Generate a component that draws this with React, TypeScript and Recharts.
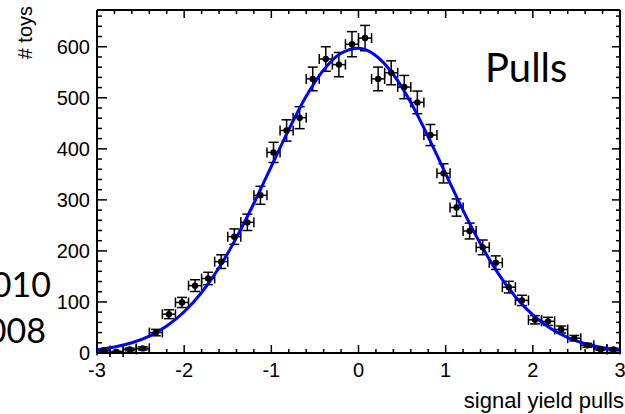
import React from 'react';
import { ComposedChart, Scatter, Line, XAxis, YAxis, ErrorBar, ReferenceLine } from 'recharts';

// histogram of toy pulls, 40 bins of width 0.15
const binCenters = [
  -2.925, -2.775, -2.625, -2.475, -2.325, -2.175, -2.025, -1.875, -1.725, -1.575,
  -1.425, -1.275, -1.125, -0.975, -0.825, -0.675, -0.525, -0.375, -0.225, -0.075,
  0.075, 0.225, 0.375, 0.525, 0.675, 0.825, 0.975, 1.125, 1.275, 1.425,
  1.575, 1.725, 1.875, 2.025, 2.175, 2.325, 2.475, 2.625, 2.775, 2.925
];
const toyCounts = [
  5, 2, 7, 9, 40, 76, 99, 132, 146, 179,
  228, 256, 309, 393, 436, 461, 537, 576, 565, 605,
  617, 537, 549, 521, 491, 427, 352, 285, 239, 207,
  177, 129, 103, 65, 62, 46, 29, 15, 8, 7
];
const countErrors = [
  2.2, 1.4, 2.6, 3.0, 6.3, 8.7, 9.9, 11.5, 12.1, 13.4,
  15.1, 16.0, 17.6, 19.8, 20.9, 21.5, 23.2, 24.0, 23.8, 24.6,
  24.8, 23.2, 23.4, 22.8, 22.2, 20.7, 18.8, 16.9, 15.5, 14.4,
  13.3, 11.4, 10.1, 8.1, 7.9, 6.8, 5.4, 3.9, 2.8, 2.6
];
const binHalfWidth = 0.075;

// gaussian fit curve
const fitX = [
  -3.0, -2.8, -2.6, -2.4, -2.2, -2.0, -1.8, -1.6, -1.4, -1.2, -1.0, -0.8, -0.6, -0.4, -0.2, 0.0,
  0.2, 0.4, 0.6, 0.8, 1.0, 1.2, 1.4, 1.6, 1.8, 2.0, 2.2, 2.4, 2.6, 2.8, 3.0
];
const fitY = [
  6.4, 11.6, 20.0, 33.2, 52.9, 80.8, 118.6, 167.1, 226.0, 293.4, 365.7, 437.7, 502.9, 554.6, 587.2, 596.9,
  582.4, 545.6, 490.7, 423.6, 351.2, 279.4, 213.4, 156.5, 110.2, 74.5, 48.3, 30.1, 18.0, 10.3, 5.7
];

const xTicks = [
  -3, -2.8, -2.6, -2.4, -2.2, -2, -1.8, -1.6, -1.4, -1.2, -1, -0.8, -0.6, -0.4, -0.2, 0,
  0.2, 0.4, 0.6, 0.8, 1, 1.2, 1.4, 1.6, 1.8, 2, 2.2, 2.4, 2.6, 2.8, 3
];
const xLabels = [-3, -2, -1, 0, 1, 2, 3];
const yTicks = [
  0, 20, 40, 60, 80, 100, 120, 140, 160, 180, 200, 220, 240, 260, 280, 300, 320, 340,
  360, 380, 400, 420, 440, 460, 480, 500, 520, 540, 560, 580, 600, 620, 640, 660
];
const yLabels = [0, 100, 200, 300, 400, 500, 600];
const yMax = 672;

const W = 625;
const H = 414;
const PLOT_TOP = 10;
const PLOT_RIGHT = 620;
const axisFont = '"Liberation Sans", Arial, sans-serif';
const slideFont = 'Lato, "Open Sans", sans-serif';

const points = binCenters.map((x, i) => ({ x, y: toyCounts[i], ey: countErrors[i], ex: binHalfWidth }));
const fitCurve = fitX.map((x, i) => ({ x, y: fitY[i] }));

const XTick = (props: any) => {
  const { x, y, payload } = props;
  const major = xLabels.includes(payload.value);
  const len = major ? 8 : 4;
  return (
    <g>
      <line x1={x} x2={x} y1={y} y2={y - len} stroke="#000" strokeWidth={1.5} />
      <line x1={x} x2={x} y1={PLOT_TOP} y2={PLOT_TOP + len} stroke="#000" strokeWidth={1.5} />
      {major && (
        <text x={x} y={y + 24} textAnchor="middle" fontSize={20} fontFamily={axisFont} fill="#000">
          {payload.value}
        </text>
      )}
    </g>
  );
};

const YTick = (props: any) => {
  const { x, y, payload } = props;
  const major = yLabels.includes(payload.value);
  return (
    <g>
      <line x1={x} x2={x + (major ? 10 : 5)} y1={y} y2={y} stroke="#000" strokeWidth={1.5} />
      <line x1={PLOT_RIGHT} x2={PLOT_RIGHT - (major ? 8 : 4)} y1={y} y2={y} stroke="#000" strokeWidth={1.5} />
      {major && (
        <text x={x - 7} y={y + 7} textAnchor="end" fontSize={20} fontFamily={axisFont} fill="#000">
          {payload.value}
        </text>
      )}
    </g>
  );
};

const Dot = (props: any) => <circle cx={props.cx} cy={props.cy} r={3.2} fill="#000" />;

export default function App() {
  return (
    <div style={{ position: 'absolute', left: 0, top: 0, width: W, height: H, background: '#fff' }}>
      <ComposedChart width={W} height={H} margin={{ top: PLOT_TOP, right: W - PLOT_RIGHT, left: 0, bottom: 0 }}>
        <XAxis
          type="number"
          dataKey="x"
          domain={[-3, 3]}
          ticks={xTicks}
          interval={0}
          tickSize={0}
          tickMargin={0}
          tick={<XTick />}
          height={61}
          allowDataOverflow
          axisLine={{ stroke: '#000', strokeWidth: 2 }}
        />
        <YAxis
          type="number"
          dataKey="y"
          domain={[0, yMax]}
          ticks={yTicks}
          interval={0}
          tickSize={0}
          tickMargin={0}
          tick={<YTick />}
          width={97}
          allowDataOverflow
          axisLine={{ stroke: '#000', strokeWidth: 2 }}
        />
        <ReferenceLine y={yMax} stroke="#000" strokeWidth={2} />
        <ReferenceLine x={3} stroke="#000" strokeWidth={2} />
        <Scatter data={points} shape={<Dot />} isAnimationActive={false}>
          <ErrorBar dataKey="ey" direction="y" width={5} stroke="#000" strokeWidth={1.5} isAnimationActive={false} />
          <ErrorBar dataKey="ex" direction="x" width={5} stroke="#000" strokeWidth={1.5} isAnimationActive={false} />
        </Scatter>
        <Line
          data={fitCurve}
          dataKey="y"
          type="monotone"
          stroke="#0000ff"
          strokeWidth={3}
          dot={false}
          activeDot={false}
          isAnimationActive={false}
        />
      </ComposedChart>
      <svg width={W} height={H} style={{ position: 'absolute', left: 0, top: 0, pointerEvents: 'none' }}>
        <text transform="translate(32,6) rotate(-90)" textAnchor="end" fontSize={20} fontFamily={axisFont} fill="#000">
          # toys
        </text>
        <text x={624} y={408} textAnchor="end" fontSize={22} fontFamily={axisFont} fill="#000">
          signal yield pulls
        </text>
        <text x={485} y={82} fontSize={40} fontFamily={slideFont} fill="#000">
          Pulls
        </text>
        <text x={51} y={297} textAnchor="end" fontSize={34} fontFamily={slideFont} fill="#000">
          010
        </text>
        <text x={46} y={343} textAnchor="end" fontSize={34} fontFamily={slideFont} fill="#000">
          008
        </text>
      </svg>
    </div>
  );
}
